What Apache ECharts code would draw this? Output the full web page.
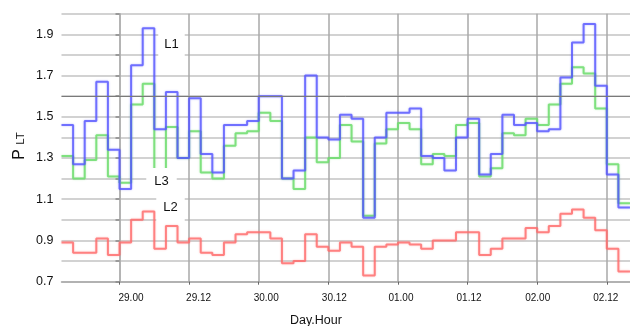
<!DOCTYPE html>
<html>
<head>
<meta charset="utf-8">
<script src="https://cdn.jsdelivr.net/npm/echarts@6/dist/echarts.min.js"></script>
<style>
html,body{margin:0;padding:0;background:#fff;}
#chart{width:630px;height:326px;}
</style>
</head>
<body>
<div id="chart"></div>
<script>
// Segment start times (hours relative to day 29, 00 h); each value holds for 2 hours
const hours = [-10,-8,-6,-4,-2,0,2,4,6,8,10,12,14,16,18,20,22,24,26,28,30,32,34,36,38,40,42,44,46,48,50,52,54,56,58,60,62,64,66,68,70,72,74,76,78,80,82,84,86];
const hourEnd = 88;

const L1 = [1.46,1.27,1.48,1.67,1.34,1.15,1.75,1.93,1.44,1.62,1.30,1.59,1.32,1.23,1.46,1.46,1.48,1.60,1.60,1.20,1.24,1.70,1.40,1.39,1.51,1.49,1.01,1.40,1.52,1.52,1.54,1.31,1.30,1.24,1.40,1.49,1.22,1.32,1.51,1.46,1.47,1.43,1.44,1.69,1.86,1.95,1.65,1.22,1.06];
const L3 = [1.31,1.20,1.29,1.41,1.21,1.18,1.56,1.66,1.22,1.45,1.30,1.43,1.23,1.20,1.36,1.42,1.43,1.52,1.48,1.20,1.15,1.40,1.28,1.30,1.46,1.38,1.02,1.37,1.44,1.47,1.44,1.27,1.32,1.31,1.46,1.47,1.21,1.25,1.42,1.41,1.49,1.46,1.56,1.66,1.74,1.71,1.54,1.27,1.08];
const L2 = [0.89,0.84,0.84,0.91,0.83,0.89,1.00,1.04,0.86,0.97,0.89,0.91,0.84,0.83,0.89,0.93,0.94,0.94,0.91,0.79,0.80,0.93,0.87,0.85,0.89,0.87,0.73,0.87,0.88,0.89,0.88,0.86,0.90,0.90,0.94,0.94,0.83,0.86,0.91,0.91,0.96,0.94,0.97,1.03,1.05,1.01,0.95,0.86,0.75];

const tickHours = [0,12,24,36,48,60,72,84];
const tickLabels = ['29.00','29.12','30.00','30.12','01.00','01.12','02.00','02.12'];
const yMin = 0.7, yMax = 2.0, yStep = 0.1;

function toSteps(vals){
  const d = hours.map((h,i)=>[h, vals[i]]);
  d.push([hourEnd, vals[vals.length-1]]);
  return d;
}

const FONT = '"Liberation Sans", Arial, sans-serif';
// per-label horizontal shift (px) to match the reference label placement
const labelShift = [11.5, 9.5, 7.5, 6, 3, 1.5, 0.5, -1];
const rich = {};
labelShift.forEach((s,i)=>{
  rich['s'+i] = {fontSize:10, fontFamily:FONT, color:'#111',
    padding: s>=0 ? [0,0,0,2*s] : [0,-2*s,0,0]};
});

const chart = echarts.init(document.getElementById('chart'), null, {renderer:'canvas'});
const option = {
  animation:false,
  backgroundColor:'#ffffff',
  grid:{left:61.5, right:-2.3, top:13.7, bottom:44.3, containLabel:false},
  xAxis:{
    type:'value', min:-10, max:hourEnd,
    axisLine:{show:true, onZero:false, lineStyle:{color:'#a8a8a8', width:1.5}},
    axisTick:{show:true, customValues:tickHours, length:3, lineStyle:{color:'#666', width:1}},
    axisLabel:{customValues:tickHours, margin:12, fontSize:10, fontFamily:FONT, color:'#111',
      formatter:(v)=>{const i = tickHours.indexOf(v); return i<0 ? '' : '{s'+i+'|'+tickLabels[i]+'}';},
      rich:rich},
    splitLine:{show:true, lineStyle:{color:'#a8a8a8', width:1.5}}
  },
  yAxis:{
    type:'value', min:yMin, max:yMax, interval:yStep,
    axisLine:{show:true, lineStyle:{color:'#b0b0b0', width:1.5}},
    axisTick:{show:true, length:4, lineStyle:{color:'#888', width:1.5}},
    axisLabel:{margin:8, fontSize:12.5, fontFamily:FONT, color:'#111',
      formatter:(v)=>{const k = Math.round(v*10); return (k%2===1) ? (k/10).toFixed(1) : '';}},
    splitLine:{show:true, lineStyle:{color:'#d2d2d2', width:2}}
  },
  series:[
    {name:'L3', type:'line', step:'end', data:toSteps(L3), symbol:'none',
      lineStyle:{color:'#70dd70', width:2, opacity:0.85, shadowColor:'rgba(112,221,112,0.5)', shadowBlur:2},
      markLine:{silent:true, symbol:'none', label:{show:false},
        lineStyle:{color:'#7a7a7a', width:1, type:'solid'}, data:[{yAxis:1.6}]}},
    {name:'L1', type:'line', step:'end', data:toSteps(L1), symbol:'none',
      lineStyle:{color:'#5555ff', width:2, opacity:0.78, shadowColor:'rgba(85,85,255,0.5)', shadowBlur:2}},
    {name:'L2', type:'line', step:'end', data:toSteps(L2), symbol:'none',
      lineStyle:{color:'#ff6c6c', width:2, opacity:0.8, shadowColor:'rgba(255,108,108,0.5)', shadowBlur:2}}
  ],
  graphic:[
    {type:'text', x:171.5, y:44, z:100, style:{text:'L1', fontSize:13, fontFamily:FONT, fill:'#111',
      align:'center', verticalAlign:'middle', backgroundColor:'#fff', padding:[6,6]}},
    {type:'text', x:161.5, y:181.5, z:100, style:{text:'L3', fontSize:13, fontFamily:FONT, fill:'#111',
      align:'center', verticalAlign:'middle', backgroundColor:'#fff', padding:[7,8]}},
    {type:'text', x:170.5, y:207.5, z:100, style:{text:'L2', fontSize:13, fontFamily:FONT, fill:'#111',
      align:'center', verticalAlign:'middle', backgroundColor:'#fff', padding:[7,7]}},
    {type:'text', x:316, y:320.5, z:100, style:{text:'Day.Hour', fontSize:12.5, fontFamily:FONT, fill:'#111',
      align:'center', verticalAlign:'middle'}},
    {type:'text', x:19.5, y:154.5, rotation:Math.PI/2, z:100, style:{text:'P', fontSize:16, fontFamily:FONT, fill:'#111',
      align:'center', verticalAlign:'middle'}},
    {type:'text', x:21, y:138.5, rotation:Math.PI/2, z:100, style:{text:'LT', fontSize:11.5, fontFamily:FONT, fill:'#111',
      align:'center', verticalAlign:'middle'}}
  ]
};
chart.setOption(option);
</script>
</body>
</html>
